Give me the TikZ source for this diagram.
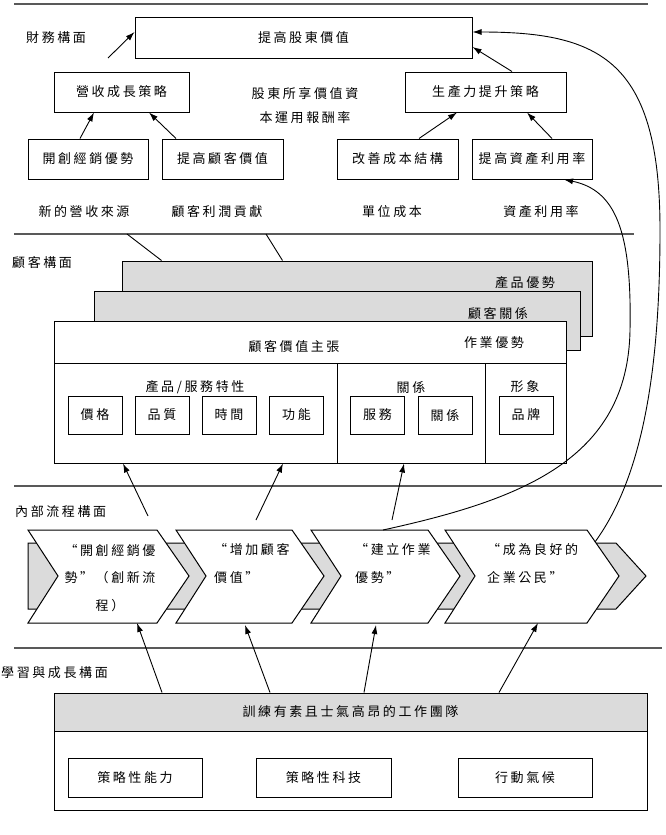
\documentclass[tikz,border=0pt]{standalone}
\usepackage{fontspec}
\setmainfont{Noto Sans CJK TC}[LetterSpace=20]
\usetikzlibrary{arrows.meta}
\definecolor{laygray}{gray}{0.86}
\definecolor{rulegray}{gray}{0.35}
\tikzset{
  box/.style={draw, line width=1pt, fill=white, inner sep=0pt},
  laybox/.style={draw, line width=1pt, fill=laygray, inner sep=0pt},
  lbl/.style={inner sep=1pt},
  arr/.style={line width=0.9pt, -{Latex[length=9pt,width=6pt]}},
  ln/.style={line width=0.9pt},
  rulesep/.style={line width=1.2pt, draw=rulegray},
  twoline/.style={lbl, font=\fontsize{13}{27.5}\selectfont},
}
\begin{document}
\begin{tikzpicture}[x=1pt,y=-1pt,font=\fontsize{13}{15}\selectfont]
  \useasboundingbox (0,0) rectangle (665,835);
  \draw[rulesep] (14,4) -- (648,4);
  \draw[rulesep] (14,234) -- (634,234);
  \draw[rulesep] (14,486) -- (662,486);
  \draw[rulesep] (14,648) -- (662,648);
  \node[lbl, anchor=west] (finp) at (25,38) {財務構面};
  \node[lbl, anchor=west] (cusp) at (11,263) {顧客構面};
  \node[lbl, anchor=west] (intp) at (14,512) {內部流程構面};
  \node[lbl, anchor=west] (lrnp) at (0,673) {學習與成長構面};
  % financial
  \node[box, minimum width=337, minimum height=41] (sv) at (303.5,37.5) {提高股東價值};
  \node[box, minimum width=135, minimum height=40] (grow) at (121.5,92) {營收成長策略};
  \node[box, minimum width=161, minimum height=40] (prod) at (485.5,92) {生產力提升策略};
  \node[lbl, align=center, font=\fontsize{13}{24}\selectfont] (roce) at (305,106) {股東所享價值資\\本運用報酬率};
  \node[box, minimum width=120, minimum height=40] (newsrc) at (88,159) {開創經銷優勢};
  \node[box, minimum width=121, minimum height=40] (custval) at (222.5,159) {提高顧客價值};
  \node[box, minimum width=121, minimum height=40] (cost) at (397.5,159) {改善成本結構};
  \node[box, minimum width=120, minimum height=40] (asset) at (532,159) {提高資產利用率};
  \node[lbl] (rev) at (84,212) {新的營收來源};
  \node[lbl] (profit) at (217,212) {顧客利潤貢獻};
  \node[lbl] (unit) at (392,212) {單位成本};
  \node[lbl] (util) at (541,212) {資產利用率};
  \coordinate (growtip) at (108,58);
  \draw[arr] (growtip) -- ([yshift=5.5pt]sv.west);
  \draw[arr] ([xshift=26.5pt]prod.north) -- ([yshift=-9.5pt]sv.east);
  \draw[arr] ([xshift=-8pt]newsrc.north) -- ([xshift=-27.5pt]grow.south);
  \draw[arr] ([xshift=-46.5pt]custval.north) -- ([xshift=27.5pt]grow.south);
  \draw[arr] ([xshift=21.5pt]cost.north) -- ([xshift=-28.5pt]prod.south);
  \draw[arr] ([xshift=20pt]asset.north) -- ([xshift=41.5pt]prod.south);
  % customer
  \node[laybox, minimum width=470, minimum height=75] (lead) at (357,298.5) {};
  \node[lbl] (leadt) at (525,283) {產品優勢};
  \node[laybox, minimum width=486, minimum height=59] (intim) at (337,320.5) {};
  \node[lbl] (intimt) at (498,313) {顧客關係};
  \node[box, minimum width=512, minimum height=142] (cvp) at (310,392) {};
  \node[lbl] (cvpt) at (294,347) {顧客價值主張};
  \node[lbl] (opt) at (494,343) {作業優勢};
  \draw[ln] (54,363) -- (566,363);
  \draw[ln] (337,363) -- (337,463);
  \draw[ln] (485,363) -- (485,463);
  \node[lbl] (attrh) at (195,387) {產品/服務特性};
  \node[lbl] (relh) at (411,387) {關係};
  \node[lbl] (imgh) at (525,387) {形象};
  \foreach \x/\t/\n in {95/價格/price, 162/品質/qual, 229/時間/time, 296.5/功能/func,
      377.5/服務/serv, 445/關係/rel, 526/品牌/brand}
    \node[box, minimum width=54, minimum height=38] (\n) at (\x,415) {\t};
  \coordinate (rev0) at (127,234);
  \coordinate (pro0) at (266,234);
  \draw[ln] (rev0) -- ([xshift=40pt]lead.north west);
  \draw[ln] (pro0) -- ([xshift=161pt]lead.north west);
  % internal process
  \draw[laybox] (28,543) -- (616,543) -- (646,576) -- (616,609) -- (28,609) -- cycle;
  \foreach \l/\r in {28/157, 176/292, 311/428, 445/587}
    \draw[box] (\l,530) -- (\r,530) -- (\r+32,576) -- (\r,623) -- (\l,623) -- (\l+30,576) -- cycle;
  \node[twoline, align=center] (proc1) at (110,578) {“開創經銷優\\勢”（創新流\\程）};
  \node[twoline, align=left, anchor=west] (proc2) at (213,563.5) {“增加顧客\\價值”};
  \node[twoline, align=left, anchor=west] (proc3) at (354,563.5) {“建立作業\\優勢”};
  \node[twoline, align=left, anchor=west] (proc4) at (486,563.5) {“成為良好的\\企業公民”};
  \coordinate (ch1t) at (148,516);
  \coordinate (ch2t) at (256,520);
  \coordinate (ch3t) at (392,520);
  \draw[arr] (ch1t) -- ([xshift=-187pt]cvp.south);
  \draw[arr] (ch2t) -- ([xshift=-27pt]cvp.south);
  \draw[arr] (ch3t) -- ([xshift=94pt]cvp.south);
  \coordinate (ch3top) at (383,530);
  \coordinate (ch4edge) at (595,542);
  \draw[arr] (ch3top) .. controls (520,500) and (628,460) .. (630,330)
    .. controls (632,230) and (615,190) .. ([xshift=32pt]asset.south);
  \draw[arr] (ch4edge) .. controls (640,480) and (660,380) .. (660,230)
    .. controls (660,60) and (600,32) .. ([yshift=5.5pt]sv.east);
  % learning and growth
  \node[box, minimum width=593, minimum height=117] (lrnbox) at (350.5,751.5) {};
  \node[laybox, minimum width=593, minimum height=38] (team) at (350.5,712) {訓練有素且士氣高昂的工作團隊};
  \node[box, minimum width=134, minimum height=39] (skill) at (135,777.5) {策略性能力};
  \node[box, minimum width=135, minimum height=39] (tech) at (323.5,777.5) {策略性科技};
  \node[box, minimum width=134, minimum height=39] (clim) at (525,777.5) {行動氣候};
  \coordinate (ch1b) at (137,623);
  \coordinate (ch2b) at (245,625);
  \coordinate (ch3b) at (376,625);
  \coordinate (ch4b) at (538,623);
  \draw[arr] ([xshift=-188.5pt]team.north) -- (ch1b);
  \draw[arr] ([xshift=-80.5pt]team.north) -- (ch2b);
  \draw[arr] ([xshift=13.5pt]team.north) -- (ch3b);
  \draw[arr] ([xshift=148.5pt]team.north) -- (ch4b);
\end{tikzpicture}
\end{document}
